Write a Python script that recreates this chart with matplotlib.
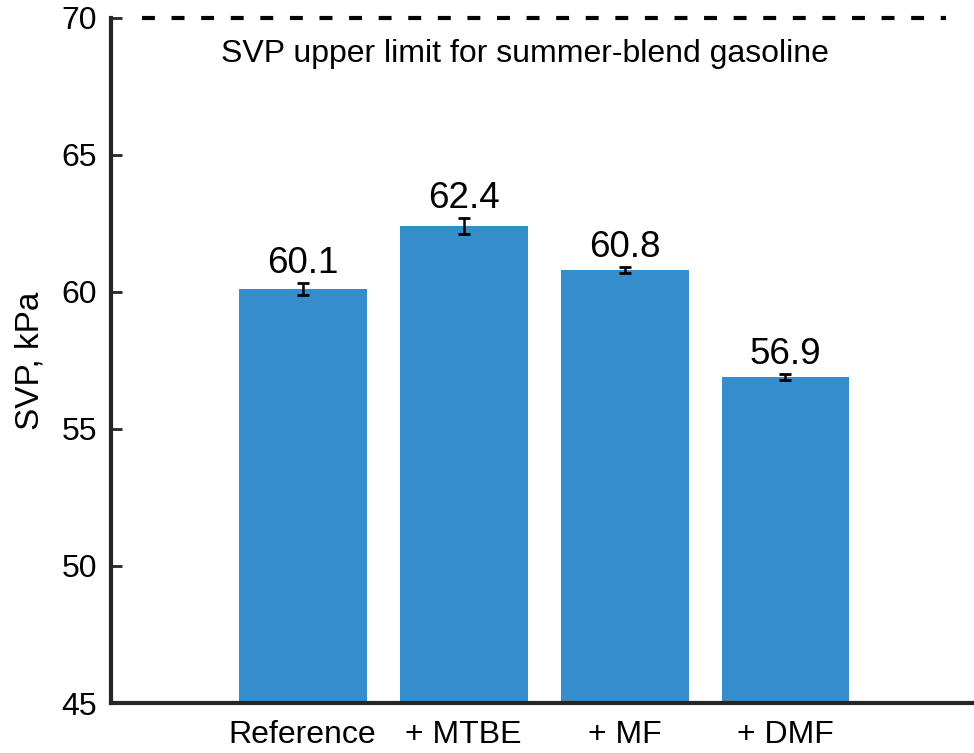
import matplotlib
matplotlib.use("Agg")
import matplotlib.pyplot as plt
import numpy as np

categories = ["Reference", "+ MTBE", "+ MF", "+ DMF"]
values = [60.1, 62.4, 60.8, 56.9]
errors = [0.22, 0.3, 0.1, 0.1]
limit_value = 70
limit_label = "SVP upper limit for summer-blend gasoline"

plt.rcParams['font.family'] = ['Liberation Sans', 'DejaVu Sans']

fig = plt.figure(figsize=(9.74, 7.53), dpi=100)
ax = fig.add_axes([0.114, 0.0664, 0.885, 0.9097])

x = np.arange(1, len(categories) + 1)
ax.bar(x, values, width=0.795, color='#368DCB', zorder=2)
ax.errorbar(x, values, yerr=errors, fmt='none', ecolor='black', elinewidth=1.8,
            capsize=4, capthick=2, zorder=3)
for xi, v, e in zip(x, values, errors):
    ax.annotate(f"{v:.1f}", (xi, v + e), xytext=(0, 7.5), textcoords='offset points',
                ha='center', va='baseline', fontsize=26.5)

ax.plot([0, 5], [limit_value, limit_value], color='black', linewidth=3,
        dashes=(3.1, 4.0), clip_on=False, zorder=4, solid_capstyle='butt')
ax.text(2.38, 68.39, limit_label, ha='center', va='baseline', fontsize=23)

ax.set_xlim(-0.19, 5.165)
ax.set_ylim(45, 70)
ax.set_yticks([45, 50, 55, 60, 65, 70])
ax.set_xticks(x)
ax.set_xticklabels(categories)
ax.set_ylabel("SVP, kPa", fontsize=24)
ax.yaxis.label.set_va('center')
ax.yaxis.set_label_coords(-0.0945, 0.5)
ax.tick_params(direction='in', length=8, width=2, labelsize=23, color='#262626')
ax.tick_params(axis='x', pad=12)
ax.tick_params(axis='y', pad=10)
for s in ['top', 'right']:
    ax.spines[s].set_visible(False)
for s in ['left', 'bottom']:
    ax.spines[s].set_linewidth(3)
    ax.spines[s].set_color('#262626')

fig.savefig("out.png", dpi=100)
